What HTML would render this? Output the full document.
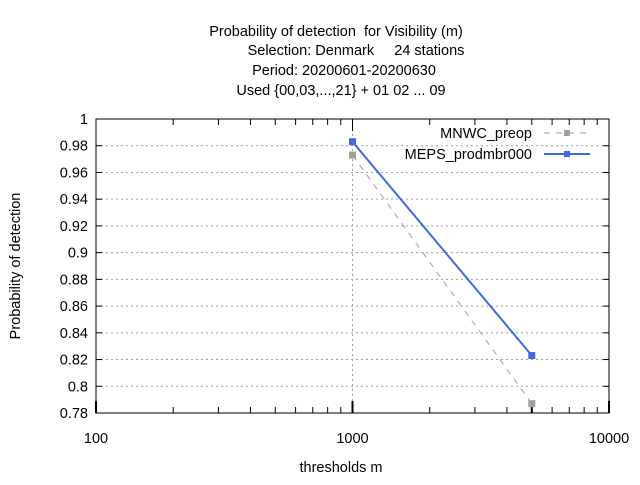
<!DOCTYPE html>
<html><head><meta charset="utf-8"><style>
body{margin:0;background:#fff}
svg text{font-family:"Liberation Sans",sans-serif;font-size:14.5px;fill:#000;white-space:pre}
</style></head><body>
<svg id="c" width="640" height="480">
<g>
<text x="336" y="36" text-anchor="middle">Probability of detection  for Visibility (m)</text>
<text x="356" y="55" text-anchor="middle">Selection: Denmark     24 stations</text>
<text x="344" y="75" text-anchor="middle">Period: 20200601-20200630</text>
<text x="341" y="95" text-anchor="middle">Used {00,03,...,21} + 01 02 ... 09</text>
</g>
<text x="341" y="472" text-anchor="middle">thresholds m</text>
<text transform="translate(20,266) rotate(-90)" text-anchor="middle">Probability of detection</text>
<g id="grid"></g><g id="axes"></g><g id="series"></g>
<g>
<text x="532" y="138" text-anchor="end">MNWC_preop</text>
<line x1="544" y1="133" x2="590" y2="133" stroke="#a0a0a0" stroke-dasharray="6,6"/>
<rect x="564" y="130" width="6" height="6" fill="#a0a0a0"/>
<text x="532" y="159" text-anchor="end">MEPS_prodmbr000</text>
<line x1="544" y1="154" x2="590" y2="154" stroke="#4169e1" stroke-width="2"/>
<rect x="564" y="151" width="6" height="6" fill="#4169e1"/>
</g>
</svg>
<script>
const xCats=[1000,5000];
const mnwc=[0.973,0.787];
const meps=[0.983,0.823];
const yTicks=[0.78,0.8,0.82,0.84,0.86,0.88,0.9,0.92,0.94,0.96,0.98,1];
const xTicks=[100,1000,10000];
const L=96,R=609,T=119,B=413;
const X=v=>L+(Math.log10(v)-2)/2*(R-L);
const Y=v=>B-(v-0.78)/0.22*(B-T);
const NS="http://www.w3.org/2000/svg";
function mk(t,a,p){const e=document.createElementNS(NS,t);for(const k in a)e.setAttribute(k,a[k]);p.appendChild(e);return e;}
const grid=document.getElementById('grid'),axes=document.getElementById('axes'),ser=document.getElementById('series');
yTicks.forEach(v=>{
 const y=Y(v);
 if(v>0.78&&v<1){const g=mk('line',{x1:L,x2:R,y1:y,y2:y,stroke:'#a0a0a0','stroke-dasharray':'2,3'},grid);
 
 }
 mk('line',{x1:L,x2:L+6,y1:y,y2:y,stroke:'#000'},axes);
 mk('line',{x1:R-6,x2:R,y1:y,y2:y,stroke:'#000'},axes);
 const t=mk('text',{x:L-8,y:y+5,'text-anchor':'end'},axes);t.textContent=String(v);
 
 
});
xTicks.forEach(v=>{
 const x=X(v);
 if(v>100&&v<10000){const g=mk('line',{x1:x,x2:x,y1:T,y2:B,stroke:'#a0a0a0','stroke-dasharray':'2,3'},grid);
 
 }
 mk('line',{x1:x,x2:x,y1:B,y2:B-12,stroke:'#000','stroke-width':2},axes);
 mk('line',{x1:x,x2:x,y1:T,y2:T+12,stroke:'#000'},axes);
 const t=mk('text',{x:x,y:B+30,'text-anchor':'middle'},axes);t.textContent=String(v);
 
 
});
[100,1000].forEach(d=>{for(let m=2;m<10;m++){const x=X(d*m);
 mk('line',{x1:x,x2:x,y1:B,y2:B-6,stroke:'#000'},axes);
 mk('line',{x1:x,x2:x,y1:T,y2:T+6,stroke:'#000'},axes);}});
xCats.forEach(v=>{const x=X(v);mk('line',{x1:x,x2:x,y1:B,y2:B-12,stroke:'#000','stroke-width':2},axes);});
const fr=mk('rect',{x:L,y:T,width:R-L,height:B-T,fill:'none',stroke:'#000'},axes);


function draw(vals,col,w,dash,name){
 const pts=xCats.map((c,i)=>X(c)+','+Y(vals[i])).join(' ');
 const a={points:pts,fill:'none',stroke:col,'stroke-width':w};if(dash)a['stroke-dasharray']=dash;
 const pl=mk('polyline',a,ser);
 
 
 xCats.forEach((c,i)=>{const r=mk('rect',{x:X(c)-3.5,y:Y(vals[i])-3.5,width:7,height:7,fill:col},ser);
 
 });
}
draw(mnwc,'#a0a0a0',1,'6,6','mnwc');
draw(meps,'#4169e1',2,null,'meps');
</script>
</body></html>
